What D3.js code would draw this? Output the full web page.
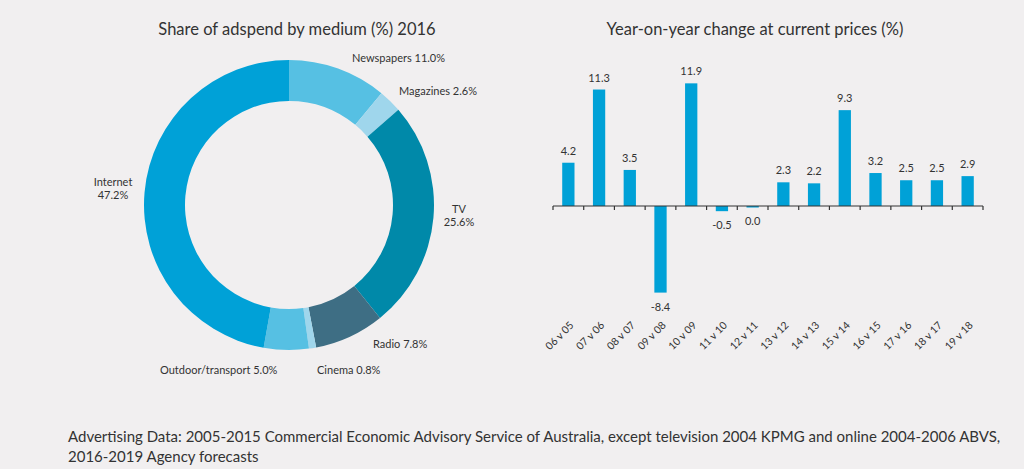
<!DOCTYPE html>
<html>
<head>
<meta charset="utf-8">
<script src="https://cdn.jsdelivr.net/npm/d3@7/dist/d3.min.js"></script>
<style>
  html, body { margin: 0; padding: 0; background: #f1eff0; }
  svg { display: block; font-family: Lato, "Open Sans", sans-serif; }
</style>
</head>
<body>
<svg id="chart" width="1024" height="469"></svg>
<script>
// ---- Data ----
const pieCategories = ["Newspapers", "Magazines", "TV", "Radio", "Cinema", "Outdoor/transport", "Internet"];
const pieValues = [11.0, 2.6, 25.6, 7.8, 0.8, 5.0, 47.2];
const pieColors = ["#56c0e3", "#9fd6ec", "#0089a9", "#3e6e84", "#9fd6ec", "#56c0e3", "#00a1d7"];

const barCategories = ["06 v 05", "07 v 06", "08 v 07", "09 v 08", "10 v 09", "11 v 10", "12 v 11",
                       "13 v 12", "14 v 13", "15 v 14", "16 v 15", "17 v 16", "18 v 17", "19 v 18"];
const barValues = [4.2, 11.3, 3.5, -8.4, 11.9, -0.5, 0.0, 2.3, 2.2, 9.3, 3.2, 2.5, 2.5, 2.9];

const titles = ["Share of adspend by medium (%) 2016", "Year-on-year change at current prices (%)"];
const footnoteLines = [
  "Advertising Data: 2005-2015 Commercial Economic Advisory Service of Australia, except television 2004 KPMG and online 2004-2006 ABVS,",
  "2016-2019 Agency forecasts"
];

// ---- Layout (styles / positions) ----
const textColor = "#333333";
const svg = d3.select("#chart");
const fmt = v => d3.format(".1f")(v).replace("\u2212", "-");

// Titles
svg.append("text").attr("x", 297).attr("y", 35).attr("text-anchor", "middle")
  .attr("font-size", 16.5).attr("fill", textColor).text(titles[0]);
svg.append("text").attr("x", 755).attr("y", 35).attr("text-anchor", "middle")
  .attr("font-size", 16.5).attr("fill", textColor).text(titles[1]);

// ---- Donut ----
const cx = 289, cy = 205, outerR = 145, innerR = 104;
const pie = d3.pie().sort(null).value(d => d.value);
const arcs = pie(pieCategories.map((c, i) => ({ name: c, value: pieValues[i], color: pieColors[i] })));
const arc = d3.arc().innerRadius(innerR).outerRadius(outerR);
const g = svg.append("g").attr("transform", `translate(${cx},${cy})`);
g.selectAll("path").data(arcs).join("path")
  .attr("d", arc).attr("fill", d => d.data.color);

// label placement: per-label layout (anchor point relative to center)
const labelLayout = {
  "Newspapers":        { x: 63,  y: -143, anchor: "start", split: false },
  "Magazines":         { x: 110, y: -110, anchor: "start", split: false },
  "TV":                { x: 170, y: 8,    anchor: "middle", split: true },
  "Radio":             { x: 84,  y: 143,  anchor: "start", split: false },
  "Cinema":            { x: 28,  y: 169,  anchor: "start", split: false },
  "Outdoor/transport": { x: -129,y: 169,  anchor: "start", split: false },
  "Internet":          { x: -176,y: -19,  anchor: "middle", split: true }
};
arcs.forEach(d => {
  const L = labelLayout[d.data.name];
  const pct = fmt(d.data.value) + "%";
  const t = g.append("text").attr("font-size", 11).attr("fill", textColor)
    .attr("text-anchor", L.anchor);
  if (L.split) {
    t.append("tspan").attr("x", L.x).attr("y", L.y).text(d.data.name);
    t.append("tspan").attr("x", L.x).attr("y", L.y + 13).text(pct);
  } else {
    t.attr("x", L.x).attr("y", L.y).text(d.data.name + " " + pct);
  }
});

// ---- Bar chart ----
const bx0 = 553, bx1 = 983;
const x = d3.scaleBand().domain(barCategories).range([bx0, bx1]).paddingInner(0.6).paddingOuter(0.3);
const y = d3.scaleLinear().domain([-10, 14]).range([309.1, 61.7]);
const zeroY = y(0);
const bandStep = x.step();

svg.append("g").selectAll("rect").data(barValues).join("rect")
  .attr("x", (d, i) => x(barCategories[i]))
  .attr("width", x.bandwidth())
  .attr("y", d => d >= 0 ? y(d) : zeroY)
  .attr("height", d => Math.max(Math.abs(y(d) - zeroY), d === 0 ? 1.5 : 0))
  .attr("fill", "#00a1d7");

// value labels
svg.append("g").selectAll("text").data(barValues).join("text")
  .attr("x", (d, i) => x(barCategories[i]) + x.bandwidth() / 2)
  .attr("y", d => d > 0 ? y(d) - 8 : (d < 0 ? y(d) + 18 : zeroY + 19))
  .attr("text-anchor", "middle").attr("font-size", 11).attr("fill", textColor)
  .text(d => fmt(d));

// axis line with ticks at band boundaries
const axisG = svg.append("g");
axisG.append("line").attr("x1", bx0).attr("x2", bx1).attr("y1", zeroY).attr("y2", zeroY)
  .attr("stroke", textColor).attr("stroke-width", 1.2);
const tickXs = d3.range(barCategories.length + 1).map(i => bx0 + i * bandStep);
axisG.selectAll("line.tick").data(tickXs).join("line").attr("class", "tick")
  .attr("x1", d => d).attr("x2", d => d).attr("y1", zeroY).attr("y2", zeroY + 4)
  .attr("stroke", textColor).attr("stroke-width", 1.2);

// category labels rotated
svg.append("g").selectAll("text").data(barCategories).join("text")
  .attr("transform", d => `translate(${x(d) + x.bandwidth() / 2 + 6},${326}) rotate(-45)`)
  .attr("text-anchor", "end").attr("font-size", 10.5).attr("fill", textColor)
  .text(d => d);

// ---- Footnote ----
footnoteLines.forEach((line, i) => {
  svg.append("text").attr("x", 68).attr("y", 442 + i * 20)
    .attr("font-size", 15).attr("fill", textColor).text(line);
});
</script>
</body>
</html>
